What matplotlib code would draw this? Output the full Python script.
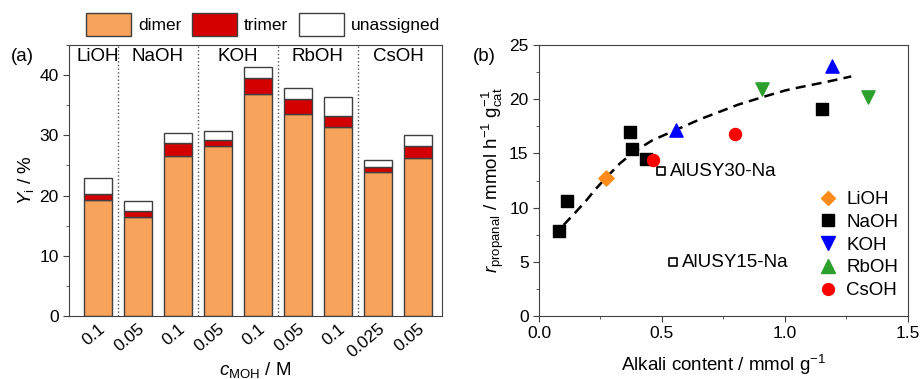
import numpy as np
import matplotlib.pyplot as plt
from matplotlib.lines import Line2D
import matplotlib.transforms as mtransforms

plt.rcParams['font.family'] = ['Liberation Sans', 'DejaVu Sans']
plt.rcParams['mathtext.fontset'] = 'custom'
plt.rcParams['mathtext.rm'] = 'Liberation Sans'
plt.rcParams['mathtext.it'] = 'Liberation Sans:italic'
plt.rcParams['font.size'] = 12

# (a) yields per catalyst
groups = ["LiOH", "NaOH", "KOH", "RbOH", "CsOH"]
group_pos = [0, 1.5, 3.5, 5.5, 7.5]
conc = ["0.1", "0.05", "0.1", "0.05", "0.1", "0.05", "0.1", "0.025", "0.05"]
dimer = [19.2, 16.5, 26.6, 28.3, 36.9, 33.6, 31.4, 23.9, 26.2]
trimer_top = [20.3, 17.4, 28.8, 29.2, 39.6, 36.1, 33.2, 24.7, 28.2]
total = [22.9, 19.1, 30.4, 30.7, 41.3, 37.8, 36.4, 25.9, 30.1]
trimer = [t - d for t, d in zip(trimer_top, dimer)]
unassigned = [a - t for a, t in zip(total, trimer_top)]

# (b) rate vs alkali content
li_x, li_y = [0.273], [12.76]
na_x = [0.083, 0.114, 0.372, 0.377, 0.437, 1.151]
na_y = [7.84, 10.6, 16.94, 15.44, 14.48, 19.07]
k_x, k_y = [0.556, 1.193], [17.16, 23.06]
rb_x, rb_y = [0.909, 1.337], [20.91, 20.17]
cs_x, cs_y = [0.462, 0.796], [14.39, 16.76]
usy_x = [0.496, 0.545]
usy_y = [13.35, 4.95]
usy_names = ["AlUSY30-Na", "AlUSY15-Na"]
fit_x = [0.10, 0.15, 0.19, 0.23, 0.27, 0.33, 0.39, 0.46, 0.54, 0.60, 0.66, 0.73, 0.81, 0.91, 1.00, 1.06, 1.17, 1.27]
fit_y = [8.4, 9.6, 10.6, 11.7, 12.7, 14.1, 15.2, 16.2, 17.0, 17.6, 18.2, 18.8, 19.5, 20.2, 20.8, 21.1, 21.6, 22.1]

edge = '#404040'
orange = '#F7A35C'
red = '#D40000'

fig = plt.figure(figsize=(9.23, 3.79), dpi=100)
ax1 = fig.add_axes([0.0748, 0.1662, 0.404, 0.715])
ax2 = fig.add_axes([0.584, 0.1662, 0.3995, 0.715])

x = np.arange(len(conc))
ax1.bar(x, dimer, 0.7, color=orange, edgecolor=edge, linewidth=1, label='dimer')
ax1.bar(x, trimer, 0.7, bottom=dimer, color=red, edgecolor=edge, linewidth=1, label='trimer')
ax1.bar(x, unassigned, 0.7, bottom=trimer_top, color='white', edgecolor=edge, linewidth=1, label='unassigned')
for d in [0.5, 2.5, 4.5, 6.5]:
    ax1.axvline(d, color='#555555', linestyle=':', linewidth=1)
for g, p in zip(groups, group_pos):
    ax1.text(p, 43.1, g, ha='center', va='center', fontsize=13.5)
ax1.set_xlim(-0.72, 8.6)
ax1.set_ylim(0, 45)
ax1.set_yticks([0, 10, 20, 30, 40])
ax1.set_yticks([5, 15, 25, 35, 45], minor=True)
ax1.set_xticks(x)
ax1.set_xticklabels(conc, rotation=40, ha='right', rotation_mode='anchor', va='top')
offset = mtransforms.ScaledTranslation(0.1, 0, fig.dpi_scale_trans)
for lab in ax1.get_xticklabels():
    lab.set_transform(lab.get_transform() + offset)
ax1.set_ylabel(r'$Y_{\mathrm{i}}$ / %', labelpad=2, fontsize=13.5)
ax1.set_xlabel(r'$c_{\mathrm{MOH}}$ / M', labelpad=0, fontsize=13.5)
ax1.legend(loc='lower center', bbox_to_anchor=(0.52, 1.0), ncol=3, frameon=False,
           handlelength=2.6, handleheight=1.7, columnspacing=0.6, handletextpad=0.4,
           borderaxespad=0.1, fontsize=12.5)
fig.text(0.012, 0.84, '(a)', fontsize=13.5)

ax2.plot(fit_x, fit_y, '--', color='black', linewidth=1.8, dashes=(4, 2.5))
ax2.scatter(li_x, li_y, marker='D', s=60, color='#FF8C1A', zorder=3)
ax2.scatter(na_x, na_y, marker='s', s=65, color='black', zorder=3)
ax2.scatter(k_x, k_y, marker='^', s=90, color='#0000FF', zorder=3)
ax2.scatter(rb_x, rb_y, marker='v', s=90, color='#2CA02C', zorder=3)
ax2.scatter(cs_x, cs_y, marker='o', s=75, color='#FF0000', zorder=3)
ax2.scatter(usy_x, usy_y, marker='s', s=40, facecolor='white', edgecolor='black', linewidth=1.2, zorder=3)
for ux, uy, name in zip(usy_x, usy_y, usy_names):
    ax2.text(ux + 0.035, uy, name, va='center', ha='left', fontsize=13.5)
ax2.set_xlim(0, 1.5)
ax2.set_ylim(0, 25)
ax2.set_xticks([0, 0.5, 1.0, 1.5])
ax2.set_xticklabels(['0.0', '0.5', '1.0', '1.5'])
ax2.set_xticks([0.25, 0.75, 1.25], minor=True)
ax2.set_yticks([0, 5, 10, 15, 20, 25])
ax2.set_yticks([2.5, 7.5, 12.5, 17.5, 22.5], minor=True)
ax2.set_xlabel(r'Alkali content / mmol g$^{-1}$', labelpad=8, fontsize=13.5)
ax2.set_ylabel(r'$r_{\mathrm{propanal}}$ / mmol h$^{-1}$ g$_{\mathrm{cat}}^{-1}$', labelpad=2, fontsize=13.5)
handles = [
    Line2D([], [], marker='D', color='#FF8C1A', linestyle='none', markersize=7.5),
    Line2D([], [], marker='s', color='black', linestyle='none', markersize=8),
    Line2D([], [], marker='v', color='#0000FF', linestyle='none', markersize=9.5),
    Line2D([], [], marker='^', color='#2CA02C', linestyle='none', markersize=9.5),
    Line2D([], [], marker='o', color='#FF0000', linestyle='none', markersize=8.5),
]
ax2.legend(handles, ["LiOH", "NaOH", "KOH", "RbOH", "CsOH"], loc='lower right',
           frameon=False, handletextpad=0.4, labelspacing=0.3, fontsize=13.5,
           handlelength=1.2, bbox_to_anchor=(1.02, 0.0))
fig.text(0.512, 0.84, '(b)', fontsize=13.5)

for ax in (ax1, ax2):
    for s in ax.spines.values():
        s.set_color(edge)
    ax.tick_params(which='both', direction='out', color=edge, labelsize=12.5)
    ax.tick_params(which='major', length=4)
    ax.tick_params(which='minor', length=2.5)
ax1.tick_params(axis='x', which='both', length=0)

fig.savefig('out.png', dpi=100)
